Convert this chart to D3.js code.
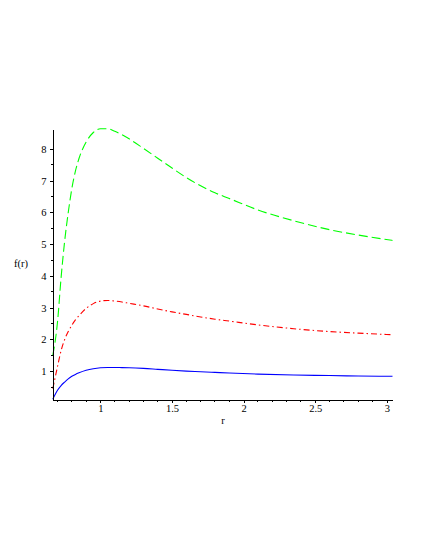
<!DOCTYPE html>
<head>
  <meta charset="utf-8">
  <script src="https://d3js.org/d3.v7.min.js"></script>
  <style>
    body {
      margin: 0;
      background: #fff;
    }

    text {
      font-family: 'Liberation Serif', serif;
      font-size: 10.5px;
      fill: #000;
    }

    .axis path, .axis line {
      stroke: #000;
      shape-rendering: crispEdges;
    }

    .line {
      fill: none;
      stroke-width: 1.1px;
    }
  </style>
</head>
<body>
  <script>
    // r values and the three curves
    var rValues = [0.667, 0.7, 0.725, 0.75, 0.775, 0.8, 0.825, 0.85, 0.9, 0.95, 1.0, 1.05, 1.1, 1.15, 1.2,
                   1.3, 1.4, 1.5, 1.6, 1.7, 1.8, 1.9, 2.1, 2.35, 2.6, 2.8, 3.04];
    var greenValues = [1.5, 2.55, 3.95, 5.1, 6.0, 6.75, 7.3, 7.7, 8.22, 8.52, 8.64, 8.64, 8.56, 8.45, 8.32,
                       8.02, 7.71, 7.40, 7.10, 6.84, 6.62, 6.44, 6.08, 5.74, 5.46, 5.29, 5.12];
    var redValues = [0.45, 1.15, 1.65, 2.0, 2.25, 2.45, 2.62, 2.75, 2.98, 3.13, 3.21, 3.23, 3.21, 3.18, 3.14,
                     3.06, 2.96, 2.87, 2.79, 2.71, 2.64, 2.58, 2.46, 2.34, 2.25, 2.2, 2.15];
    var blueValues = [0.12, 0.4, 0.55, 0.66, 0.76, 0.84, 0.9, 0.95, 1.03, 1.08, 1.11, 1.12, 1.12, 1.115, 1.11,
                      1.09, 1.06, 1.03, 1.005, 0.985, 0.965, 0.945, 0.91, 0.88, 0.865, 0.85, 0.84];

    var xTicks = [1, 1.5, 2, 2.5, 3];
    var xTickLabels = ["1", "1.5", "2", "2.5", "3"];
    var yTicks = [1, 2, 3, 4, 5, 6, 7, 8];

    var width = 425;
    var height = 550;

    var svg = d3.select("body").append("svg")
        .attr("width", width)
        .attr("height", height);

    var x = d3.scaleLinear()
        .domain([0.665, 3.04])
        .range([52.5, 392.5]);

    var y = d3.scaleLinear()
        .domain([0.11, 8.63])
        .range([399.5, 129]);

    var series = [
      { values: greenValues, color: "#00ff00", dash: "9,4" },
      { values: redValues, color: "#ff0000", dash: "6,3,1.5,3" },
      { values: blueValues, color: "#0000ff", dash: null }
    ];

    var line = d3.line()
        .x(function(d) { return x(d.r); })
        .y(function(d) { return y(d.v); })
        .curve(d3.curveMonotoneX);

    series.forEach(function(s) {
      var data = rValues.map(function(r, i) { return { r: r, v: s.values[i] }; });
      svg.append("path")
          .datum(data)
          .attr("class", "line")
          .attr("stroke", s.color)
          .attr("stroke-dasharray", s.dash)
          .attr("d", line);
    });

    // minor ticks
    var xMinor = d3.range(7, 31).map(function(d) { return d / 10; })
        .filter(function(d) { return xTicks.indexOf(d) < 0; });
    var yMinor = d3.range(1, 17).map(function(d) { return d / 2; })
        .filter(function(d) { return yTicks.indexOf(d) < 0; });

    var xAxis = d3.axisBottom(x)
        .tickValues(xTicks)
        .tickFormat(function(d, i) { return xTickLabels[i]; })
        .tickSizeInner(3)
        .tickSizeOuter(0)
        .tickPadding(2);

    var yAxis = d3.axisLeft(y)
        .tickValues(yTicks)
        .tickFormat(d3.format("d"))
        .tickSizeInner(3)
        .tickSizeOuter(0)
        .tickPadding(3);

    var gx = svg.append("g")
        .attr("class", "x axis")
        .attr("transform", "translate(0," + y.range()[0] + ")")
        .call(xAxis);

    gx.selectAll(".minor")
        .data(xMinor)
      .enter().append("line")
        .attr("class", "minor")
        .attr("x1", function(d) { return x(d); })
        .attr("x2", function(d) { return x(d); })
        .attr("y1", 0)
        .attr("y2", 2);

    var gy = svg.append("g")
        .attr("class", "y axis")
        .attr("transform", "translate(" + x.range()[0] + ",0)")
        .call(yAxis);

    gy.selectAll(".minor")
        .data(yMinor)
      .enter().append("line")
        .attr("class", "minor")
        .attr("x1", 0)
        .attr("x2", -2)
        .attr("y1", function(d) { return y(d); })
        .attr("y2", function(d) { return y(d); });

    svg.selectAll(".axis text")
        .style("font-family", "'Liberation Serif', serif")
        .style("font-size", "10.5px");

    svg.append("text")
        .attr("x", 223)
        .attr("y", 424)
        .attr("text-anchor", "middle")
        .text("r");

    svg.append("text")
        .attr("x", 21)
        .attr("y", 267)
        .attr("text-anchor", "middle")
        .text("f(r)");
  </script>
</body>
